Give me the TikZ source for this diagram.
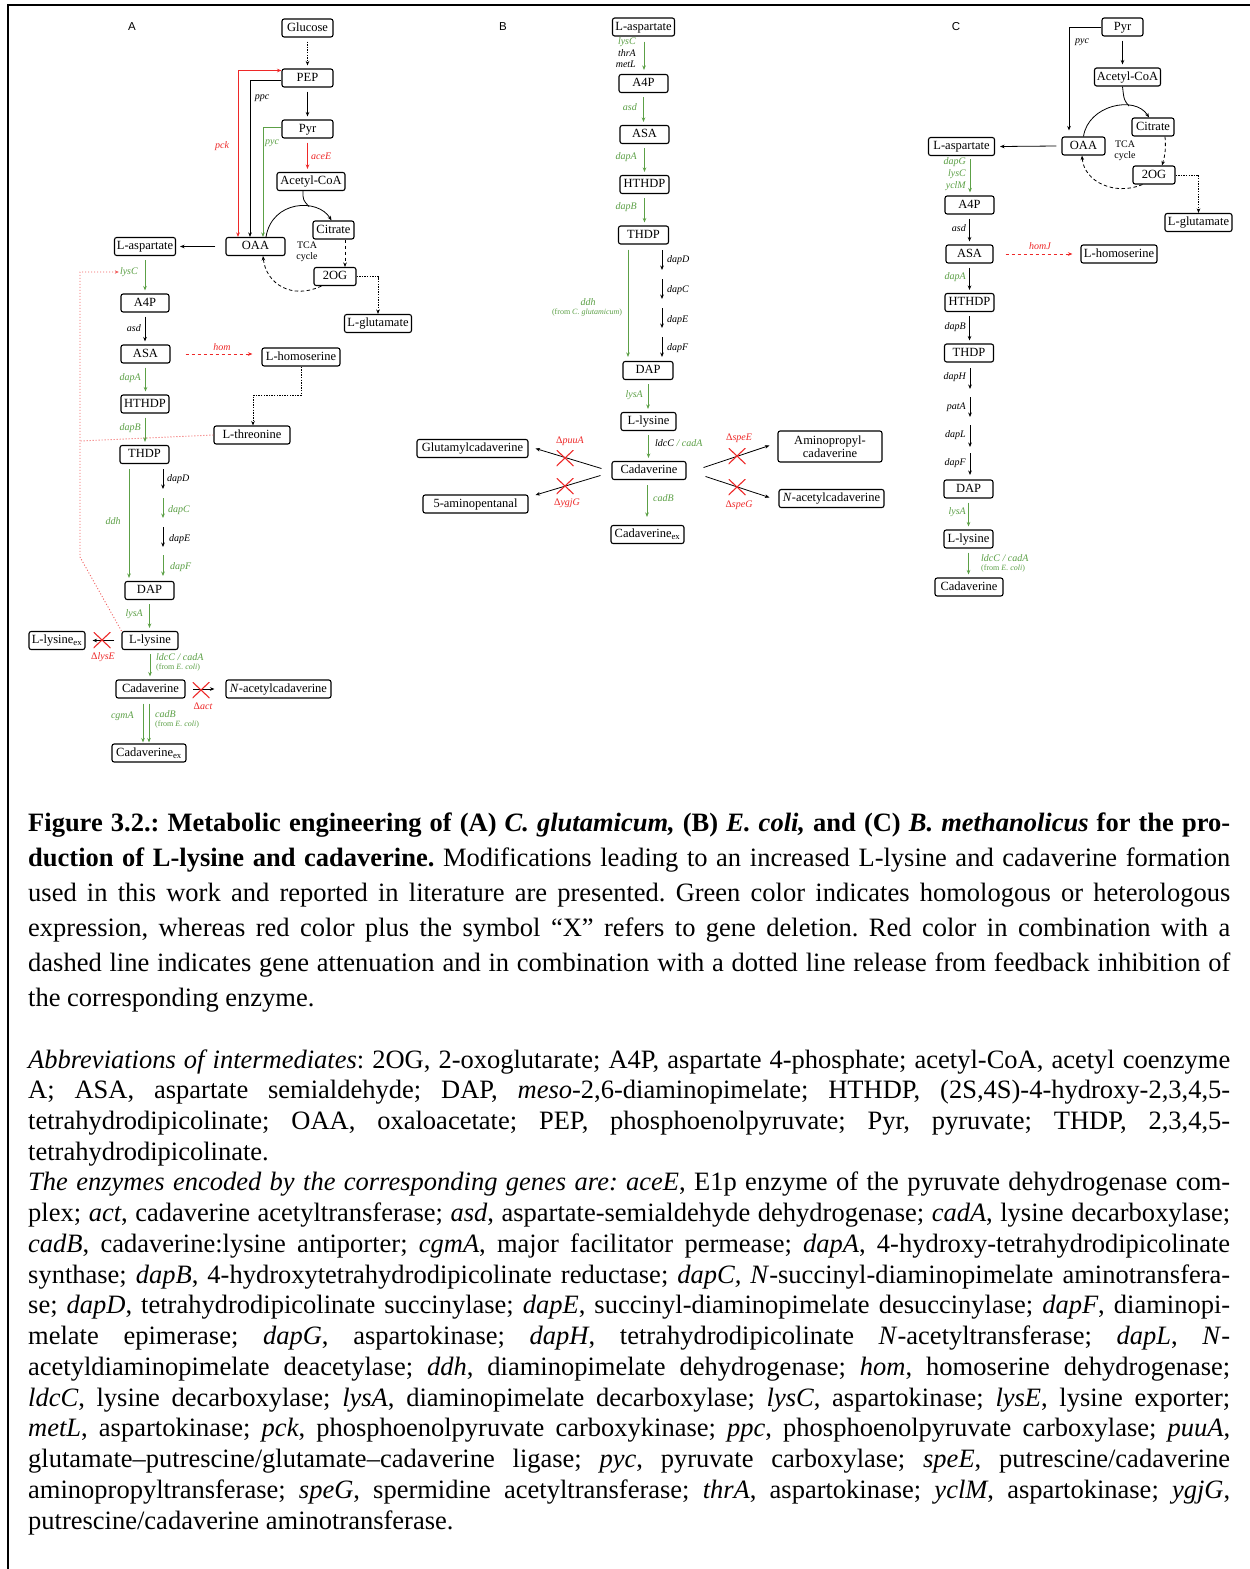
\documentclass[tikz,border=0pt]{standalone}
\usepackage{fontspec}
\setmainfont{Liberation Serif}
\newfontfamily\lsans{Liberation Sans}
\usetikzlibrary{arrows.meta,calc}
\definecolor{gG}{RGB}{92,160,70}
\definecolor{rR}{RGB}{238,40,40}
\newcommand\jl[1]{\makebox[1202pt][s]{#1}}
\frenchspacing
\begin{document}
\begin{tikzpicture}[x=1pt,y=-1pt,
  boxbase/.style={draw, rounded corners=2.2pt, line width=1.1pt, inner xsep=1pt, inner ysep=0pt, minimum height=18pt, font=\fontsize{12.5}{13}\selectfont},
  box/.style={boxbase, text height=9pt, text depth=2.5pt},
  box2/.style={boxbase, align=center, font=\fontsize{12.5}{13.5}\selectfont},
  gn/.style={font=\fontsize{10}{11}\selectfont\itshape, inner sep=0pt},
  sm/.style={font=\fontsize{8}{9}\selectfont, inner sep=0pt},
  tca/.style={font=\fontsize{10}{11}\selectfont, align=center, inner sep=0pt},
  lab/.style={font=\lsans\fontsize{11.5}{13}\selectfont, inner sep=0pt},
  ar/.style={-{Stealth[length=4.5pt,width=3.6pt]}, line width=0.8pt},
  arg/.style={ar, gG},
  arr/.style={ar, rR},
  arr2/.style={{Stealth[length=4.5pt,width=3.6pt]}-{Stealth[length=4.5pt,width=3.6pt]}, line width=0.8pt, rR},
  vs/.style={shorten <=4pt, shorten >=3pt},
  dotb/.style={dash pattern=on 1.4pt off 1.2pt},
  dashb/.style={dash pattern=on 3.5pt off 2.5pt},
  dotr/.style={rR!75, line width=0.9pt, dash pattern=on 1pt off 2pt},
  xm/.style={minimum width=17pt, minimum height=16pt, inner sep=0pt,
    path picture={\draw[rR, line width=1.1pt] (path picture bounding box.north west) -- (path picture bounding box.south east) (path picture bounding box.south west) -- (path picture bounding box.north east);}},
  captxt/.style={anchor=base west, inner sep=0pt, font=\fontsize{26.5}{30}\selectfont}
]
\useasboundingbox (0,0) rectangle (1250,1569);
\fill[white] (0,0) rectangle (1250,1569);
\draw[line width=2.2pt] (8,1569) -- (8,5) -- (1250,5);

% ================= Panel A =================
\node[lab] (labA) at (132,27) {A};
\node[box,minimum width=51pt] (glcA) at (307.5,28) {Glucose};
\node[box,minimum width=51pt] (pepA) at (307.5,78) {PEP};
\node[box,minimum width=51pt] (pyrA) at (307.5,129) {Pyr};
\node[box,minimum width=68pt] (acoA) at (311,181.5) {Acetyl-CoA};
\node[box,minimum width=41pt] (citA) at (333.5,230) {Citrate};
\node[box,minimum width=59pt] (oaaA) at (255.5,246.5) {OAA};
\node[tca] (tcaA) at (307,252) {TCA\\cycle};
\node[box,minimum width=42pt] (ogA) at (335,276.5) {2OG};
\node[box,minimum width=67pt] (gluA) at (378,323.5) {L-glutamate};
\node[box,minimum width=61pt] (aspA) at (145,246.5) {L-aspartate};
\node[box,minimum width=48pt] (a4pA) at (145,303) {A4P};
\node[box,minimum width=49pt] (asaA) at (145.5,354) {ASA};
\node[box,minimum width=78pt] (homA) at (301,357) {L-homoserine};
\node[box,minimum width=48pt] (hthA) at (145,404) {HTHDP};
\node[box,minimum width=76pt] (thrA) at (252,435) {L-threonine};
\node[box,minimum width=49pt] (thdA) at (144.5,454.5) {THDP};
\node[box,minimum width=49pt] (dapA) at (149.5,590.5) {DAP};
\node[box,minimum width=56pt] (lysA) at (150,640.5) {L-lysine};
\node[box,minimum width=56pt] (lexA) at (57,640.5) {L-lysine\textsubscript{ex}};
\node[box,minimum width=69pt] (cadA) at (150.5,689) {Cadaverine};
\node[box,minimum width=105pt] (nacA) at (278.5,689) {\textit{N}-acetylcadaverine};
\node[box,minimum width=74pt] (cexA) at (149,753) {Cadaverine\textsubscript{ex}};

\draw[ar,dotb,vs] (glcA.south) -- (pepA.north);
\draw[ar,vs] (pepA.south) -- (pyrA.north);
\draw[arr,vs] (pyrA.south) -- (pyrA.south |- acoA.north);
\node[gn,rR,anchor=west] (aceE) at (311,156) {aceE};
\draw[arr2] ($(oaaA.north)+(-17.5,0)$) |- ($(pepA.west)+(0,-7.5)$);
\draw[ar] ($(pepA.west)+(0,2)$) -| ($(oaaA.north)+(-5.5,0)$);
\draw[arg] ($(pyrA.west)+(0,-2)$) -| ($(oaaA.north)+(7.5,0)$);
\node[gn,rR] (pck) at (222,146) {pck};
\node[gn] (ppc) at (262,98) {ppc};
\node[gn,gG] (pycA) at (272,143) {pyc};
\draw[line width=0.8pt] ($(acoA.south)+(-8,0)$) .. controls (303,200) .. (309,206.5);
\draw[ar] ($(oaaA.north)+(10.5,0)$) .. controls (272,200) and (318,198) .. ($(citA.north)+(-2,0)$);
\draw[ar,dashb] ($(citA.south)+(11.5,0)$) -- ($(ogA.north)+(10,0)$);
\draw[ar,dashb] ($(ogA.south west)+(8,0)$) .. controls (292,300) and (266,284) .. ($(oaaA.south)+(7.5,0)$);
\draw[ar,dotb] (ogA.east) -| (gluA.north);
\draw[ar] ($(oaaA.west)+(-10,0)$) -- ($(aspA.east)+(4,0)$);

\node[gn,gG,anchor=east] (lyscA) at (138,272) {lysC};
\draw[arg,vs] (aspA.south) -- (a4pA.north);
\draw[dotr,-{Stealth[length=4pt,width=3.4pt]}] (lysA.north west) -- (80,557) -- (80,272) -- ($(lyscA.west)+(-1,0)$);
\draw[dotr] (thrA.west) -- (80,441);
\node[gn,anchor=east] (asdA) at (141,328) {asd};
\draw[ar,vs] (a4pA.south) -- (a4pA.south |- asaA.north);
\draw[arr,dashb] ($(asaA.east)+(15,0)$) -- ($(asaA.east -| homA.west)+(-9,0)$);
\node[gn,rR] (homgA) at (222,347) {hom};
\draw[arg,vs] (asaA.south) -- (asaA.south |- hthA.north);
\node[gn,gG,anchor=east] (dapAA) at (141,378) {dapA};
\draw[arg,vs] (hthA.south) -- (hthA.south |- thdA.north);
\node[gn,gG,anchor=east] (dapBA) at (141,428) {dapB};
\draw[ar,dotb] (homA.south) |- ($(thrA.north)+(1,-30)$) -- ($(thrA.north)+(1,0)$);

\draw[arg] ($(thdA.south)+(-15.5,5)$) -- ($(thdA.south |- dapA.north)+(-15.5,-3)$);
\node[gn,gG] (ddhA) at (113,521) {ddh};
\draw[ar] (163,469) -- (163,489);
\draw[arg] (163,498) -- (163,518);
\draw[ar] (163,527) -- (163,547);
\draw[arg] (163,555) -- (163,576);
\node[gn,anchor=west] (dapDA) at (167,479) {dapD};
\node[gn,gG,anchor=west] (dapCA) at (168,510) {dapC};
\node[gn,anchor=west] (dapEA) at (169,539) {dapE};
\node[gn,gG,anchor=west] (dapFA) at (170,567) {dapF};
\draw[arg,vs] (dapA.south) -- (dapA.south |- lysA.north);
\node[gn,gG,anchor=east] (lysAA) at (143,614) {lysA};
\draw[ar] ($(lysA.west)+(-7,0)$) -- ($(lexA.east)+(7,0)$);
\node[xm] (xlysE) at (102,640) {};
\node[gn,rR] (dlysE) at (103,657) {\textup{Δ}lysE};
\draw[arg,vs] (lysA.south) -- (lysA.south |- cadA.north);
\node[gn,gG,anchor=west] (ldcA) at (156,657) {ldcC / cadA};
\node[sm,gG,anchor=west] (frA) at (156,668) {(from \textit{E. coli})};
\draw[ar] ($(cadA.east)+(7.5,0)$) -- ($(nacA.west)+(-11,0)$);
\node[xm] (xact) at (201,690) {};
\node[gn,rR] (dact) at (203,706) {\textup{Δ}act};
\draw[arg] ($(cadA.south)+(-7.5,5)$) -- ($(cadA.south |- cexA.north)+(-7.5,-1)$);
\draw[arg] ($(cadA.south)+(-1.5,5)$) -- ($(cadA.south |- cexA.north)+(-1.5,-1)$);
\node[gn,gG,anchor=east] (cgmA) at (134,716) {cgmA};
\node[gn,gG,anchor=west] (cadBA) at (155,714) {cadB};
\node[sm,gG,anchor=west] (frA2) at (155,725) {(from \textit{E. coli})};

% ================= Panel B =================
\node[lab] (labB) at (503,27) {B};
\node[box,minimum width=62pt] (aspB) at (643.5,27) {L-aspartate};
\node[box,minimum width=49pt] (a4pB) at (643.5,83.5) {A4P};
\node[box,minimum width=49pt] (asaB) at (644.5,134.5) {ASA};
\node[box,minimum width=49pt] (hthB) at (644.5,184.5) {HTHDP};
\node[box,minimum width=50pt] (thdB) at (643.5,235) {THDP};
\node[box,minimum width=50pt] (dapB) at (648,370.5) {DAP};
\node[box,minimum width=55pt] (lysB) at (648.5,421.5) {L-lysine};
\node[box,minimum width=74pt] (cadB) at (649,470.5) {Cadaverine};
\node[box,minimum width=111pt] (gcB) at (472.5,448.5) {Glutamylcadaverine};
\node[box,minimum width=105pt] (apB) at (475.5,504) {5-aminopentanal};
\node[box2,minimum width=104pt,minimum height=31pt] (aprB) at (830,446.5) {Aminopropyl-\\cadaverine};
\node[box,minimum width=105pt] (nacB) at (831.5,498.5) {\textit{N}-acetylcadaverine};
\node[box,minimum width=73pt] (cexB) at (647.5,534.5) {Cadaverine\textsubscript{ex}};

\draw[arg] ($(aspB.south)+(0.5,5)$) -- ($(a4pB.north)+(0.5,-4)$);
\node[gn,gG,anchor=east] (lyscB) at (636,42) {lysC};
\node[gn,anchor=east] (thrAB) at (636,53) {thrA};
\node[gn,anchor=east] (metLB) at (636,64) {metL};
\draw[arg,vs] (a4pB.south) -- (a4pB.south |- asaB.north);
\node[gn,gG,anchor=east] (asdB) at (637,107) {asd};
\draw[arg,vs] (asaB.south) -- (hthB.north);
\node[gn,gG,anchor=east] (dapAB) at (637,157) {dapA};
\draw[arg,vs] (hthB.south) -- (hthB.south |- thdB.north);
\node[gn,gG,anchor=east] (dapBB) at (637,207) {dapB};
\draw[arg] ($(thdB.south)+(-15.5,5)$) -- ($(thdB.south |- dapB.north)+(-15.5,-4)$);
\node[gn,gG] (ddhB) at (588,302) {ddh};
\node[sm,gG] (frB) at (587,313) {(from \textit{C. glutamicum})};
\draw[ar] (662,250) -- (662,270);
\draw[ar] (662,279) -- (662,299);
\draw[ar] (662,308) -- (662,328);
\draw[ar] (662,337) -- (662,357);
\node[gn,anchor=west] (dapDB) at (667,260) {dapD};
\node[gn,anchor=west] (dapCB) at (667,290) {dapC};
\node[gn,anchor=west] (dapEB) at (667,320) {dapE};
\node[gn,anchor=west] (dapFB) at (667,348) {dapF};
\draw[arg,vs] (dapB.south) -- (dapB.south |- lysB.north);
\node[gn,gG,anchor=east] (lysAB) at (643,395) {lysA};
\draw[arg,vs] (lysB.south) -- (lysB.south |- cadB.north);
\node[gn,gG,anchor=west] (ldcB) at (655,443) {\textcolor{black}{ldcC} / cadA};
\draw[ar] ($(cadB.west)+(-10,-2)$) -- ($(gcB.east)+(7,0)$);
\draw[ar] ($(cadB.west)+(-11,5)$) -- ($(apB.east)+(7,-9)$);
\draw[ar] ($(cadB.east)+(17,-3)$) -- ($(aprB.west)+(-8,-1)$);
\draw[ar] ($(cadB.east)+(19,6)$) -- ($(nacB.west)+(-9,-1)$);
\node[xm] (xpuuA) at (565,458) {};
\node[xm] (xygjG) at (565,486) {};
\node[xm] (xspeE) at (737,456) {};
\node[xm] (xspeG) at (737,487) {};
\node[gn,rR] (dpuuA) at (570,441) {\textup{Δ}puuA};
\node[gn,rR] (dygjG) at (567,503) {\textup{Δ}ygjG};
\node[gn,rR] (dspeE) at (739,438) {\textup{Δ}speE};
\node[gn,rR] (dspeG) at (739,505) {\textup{Δ}speG};
\draw[arg] ($(cadB.south)+(-2,5)$) -- ($(cadB.south |- cexB.north)+(-2,-8)$);
\node[gn,gG,anchor=west] (cadBB) at (653,498) {cadB};

% ================= Panel C =================
\node[lab] (labC) at (956,27) {C};
\node[box,minimum width=41pt] (pyrC) at (1122.5,27) {Pyr};
\node[box,minimum width=66pt] (acoC) at (1127.5,77) {Acetyl-CoA};
\node[box,minimum width=42pt] (citC) at (1153,127) {Citrate};
\node[box,minimum width=43pt] (oaaC) at (1083.5,146) {OAA};
\node[tca] (tcaC) at (1125,151) {TCA\\cycle};
\node[box,minimum width=42pt] (ogC) at (1154,175) {2OG};
\node[box,minimum width=67pt] (gluC) at (1198.5,222.5) {L-glutamate};
\node[box,minimum width=66pt] (aspC) at (961.5,146.5) {L-aspartate};
\node[box,minimum width=49pt] (a4pC) at (969.5,205) {A4P};
\node[box,minimum width=47pt] (asaC) at (969.5,254) {ASA};
\node[box,minimum width=76pt] (homC) at (1119,254) {L-homoserine};
\node[box,minimum width=49pt] (hthC) at (969.5,302.5) {HTHDP};
\node[box,minimum width=49pt] (thdC) at (969,353) {THDP};
\node[box,minimum width=49pt] (dapC) at (968.5,489) {DAP};
\node[box,minimum width=49pt] (lysC) at (968.5,539) {L-lysine};
\node[box,minimum width=68pt] (cadC) at (969,587) {Cadaverine};

\draw[ar,vs] (pyrC.south) -- (pyrC.south |- acoC.north);
\draw[ar] (pyrC.west) -| ($(oaaC.north)+(-14.5,-6)$);
\node[gn] (pycC) at (1082,42) {pyc};
\draw[line width=0.8pt] ($(acoC.south)+(-5,0)$) .. controls (1124,100) .. (1129,106);
\draw[ar] (oaaC.north) .. controls (1088,105) and (1135,95) .. ($(citC.north)+(-4,0)$);
\draw[ar,dashb] ($(citC.south)+(12,0)$) .. controls +(1,12) and +(3,-10) .. ($(ogC.north)+(8,0)$);
\draw[ar,dashb] ($(ogC.south west)+(10,0)$) .. controls (1115,196) and (1084,182) .. ($(oaaC.south)+(-1.5,0)$);
\draw[ar,dotb] (ogC.east) -| (gluC.north);
\draw[ar] ($(oaaC.west)+(-5,0)$) -- ($(aspC.east)+(5,0)$);
\draw[arg] ($(aspC.south)+(8.5,3)$) -- ($(a4pC.north)+(0.5,-3)$);
\node[gn,gG,anchor=east] (dapGC) at (966,162) {dapG};
\node[gn,gG,anchor=east] (lyscC) at (966,174) {lysC};
\node[gn,gG,anchor=east] (yclMC) at (966,186) {yclM};
\draw[ar,vs] (a4pC.south) -- (asaC.north);
\node[gn,anchor=east] (asdC) at (966,228) {asd};
\draw[arr,dashb] ($(asaC.east)+(12,0)$) -- ($(homC.west)+(-8,0)$);
\node[gn,rR] (homJ) at (1040,246) {homJ};
\draw[ar,vs] (asaC.south) -- (asaC.south |- hthC.north);
\node[gn,gG,anchor=east] (dapAC) at (966,277) {dapA};
\draw[ar,vs] (hthC.south) -- (hthC.south |- thdC.north);
\node[gn,anchor=east] (dapBC) at (966,327) {dapB};
\draw[ar] (970,368) -- (970,389);
\draw[ar] (970,397) -- (970,417);
\draw[ar] (970,425) -- (970,447);
\draw[ar] (970,453) -- (970,475);
\node[gn,anchor=east] (dapHC) at (966,377) {dapH};
\node[gn,anchor=east] (patAC) at (966,407) {patA};
\node[gn,anchor=east] (dapLC) at (966,435) {dapL};
\node[gn,anchor=east] (dapFC) at (966,463) {dapF};
\draw[arg,vs] (dapC.south) -- (lysC.north);
\node[gn,gG,anchor=east] (lysAC) at (966,512) {lysA};
\draw[arg,vs] (lysC.south) -- (lysC.south |- cadC.north);
\node[gn,gG,anchor=west] (ldcC) at (981,558) {ldcC / cadA};
\node[sm,gG,anchor=west] (frC) at (981,569) {(from \textit{E. coli})};

% ================= Caption =================
\node[captxt] (c1) at (28,831) {\jl{\textbf{Figure 3.2.: Metabolic engineering of (A) \textit{C. glutamicum,} (B) \textit{E. coli,} and (C) \textit{B. methanolicus} for the pro-}}};
\node[captxt] (c2) at (28,866) {\jl{\textbf{duction of L-lysine and cadaverine.} Modifications leading to an increased L-lysine and cadaverine formation}};
\node[captxt] (c3) at (28,901) {\jl{used in this work and reported in literature are presented. Green color indicates homologous or heterologous}};
\node[captxt] (c4) at (28,936) {\jl{expression, whereas red color plus the symbol “X” refers to gene deletion. Red color in combination with a}};
\node[captxt] (c5) at (28,971) {\jl{dashed line indicates gene attenuation and in combination with a dotted line release from feedback inhibition of}};
\node[captxt] (c6) at (28,1006) {the corresponding enzyme.};

\node[captxt] (d1) at (28,1068) {\jl{\textit{Abbreviations of intermediates}: 2OG, 2-oxoglutarate; A4P, aspartate 4-phosphate; acetyl-CoA, acetyl coenzyme}};
\node[captxt] (d2) at (28,1098.7) {\jl{A; ASA, aspartate semialdehyde; DAP, \textit{meso}-2,6-diaminopimelate; HTHDP, (2S,4S)-4-hydroxy-2,3,4,5-}};
\node[captxt] (d3) at (28,1129.5) {\jl{tetrahydrodipicolinate; OAA, oxaloacetate; PEP, phosphoenolpyruvate; Pyr, pyruvate; THDP, 2,3,4,5-}};
\node[captxt] (d4) at (28,1160.2) {tetrahydrodipicolinate.};
\node[captxt] (d5) at (28,1190.9) {\jl{\textit{The enzymes encoded by the corresponding genes are: aceE}, E1p enzyme of the pyruvate dehydrogenase com-}};
\node[captxt] (d6) at (28,1221.7) {\jl{plex; \textit{act}, cadaverine acetyltransferase; \textit{asd}, aspartate-semialdehyde dehydrogenase; \textit{cadA}, lysine decarboxylase;}};
\node[captxt] (d7) at (28,1252.4) {\jl{\textit{cadB}, cadaverine:lysine antiporter; \textit{cgmA}, major facilitator permease; \textit{dapA}, 4-hydroxy-tetrahydrodipicolinate}};
\node[captxt] (d8) at (28,1283.1) {\jl{synthase; \textit{dapB}, 4-hydroxytetrahydrodipicolinate reductase; \textit{dapC, N}-succinyl-diaminopimelate aminotransfera-}};
\node[captxt] (d9) at (28,1313.8) {\jl{se; \textit{dapD}, tetrahydrodipicolinate succinylase; \textit{dapE}, succinyl-diaminopimelate desuccinylase; \textit{dapF}, diaminopi-}};
\node[captxt] (d10) at (28,1344.6) {\jl{melate epimerase; \textit{dapG}, aspartokinase; \textit{dapH}, tetrahydrodipicolinate \textit{N}-acetyltransferase; \textit{dapL}, \textit{N}-}};
\node[captxt] (d11) at (28,1375.3) {\jl{acetyldiaminopimelate deacetylase; \textit{ddh}, diaminopimelate dehydrogenase; \textit{hom}, homoserine dehydrogenase;}};
\node[captxt] (d12) at (28,1406) {\jl{\textit{ldcC}, lysine decarboxylase; \textit{lysA}, diaminopimelate decarboxylase; \textit{lysC}, aspartokinase; \textit{lysE}, lysine exporter;}};
\node[captxt] (d13) at (28,1436.8) {\jl{\textit{metL}, aspartokinase; \textit{pck}, phosphoenolpyruvate carboxykinase; \textit{ppc}, phosphoenolpyruvate carboxylase; \textit{puuA},}};
\node[captxt] (d14) at (28,1467.5) {\jl{glutamate–putrescine/glutamate–cadaverine ligase; \textit{pyc}, pyruvate carboxylase; \textit{speE}, putrescine/cadaverine}};
\node[captxt] (d15) at (28,1498.2) {\jl{aminopropyltransferase; \textit{speG}, spermidine acetyltransferase; \textit{thrA}, aspartokinase; \textit{yclM}, aspartokinase; \textit{ygjG},}};
\node[captxt] (d16) at (28,1529) {putrescine/cadaverine aminotransferase.};
\end{tikzpicture}
\end{document}
